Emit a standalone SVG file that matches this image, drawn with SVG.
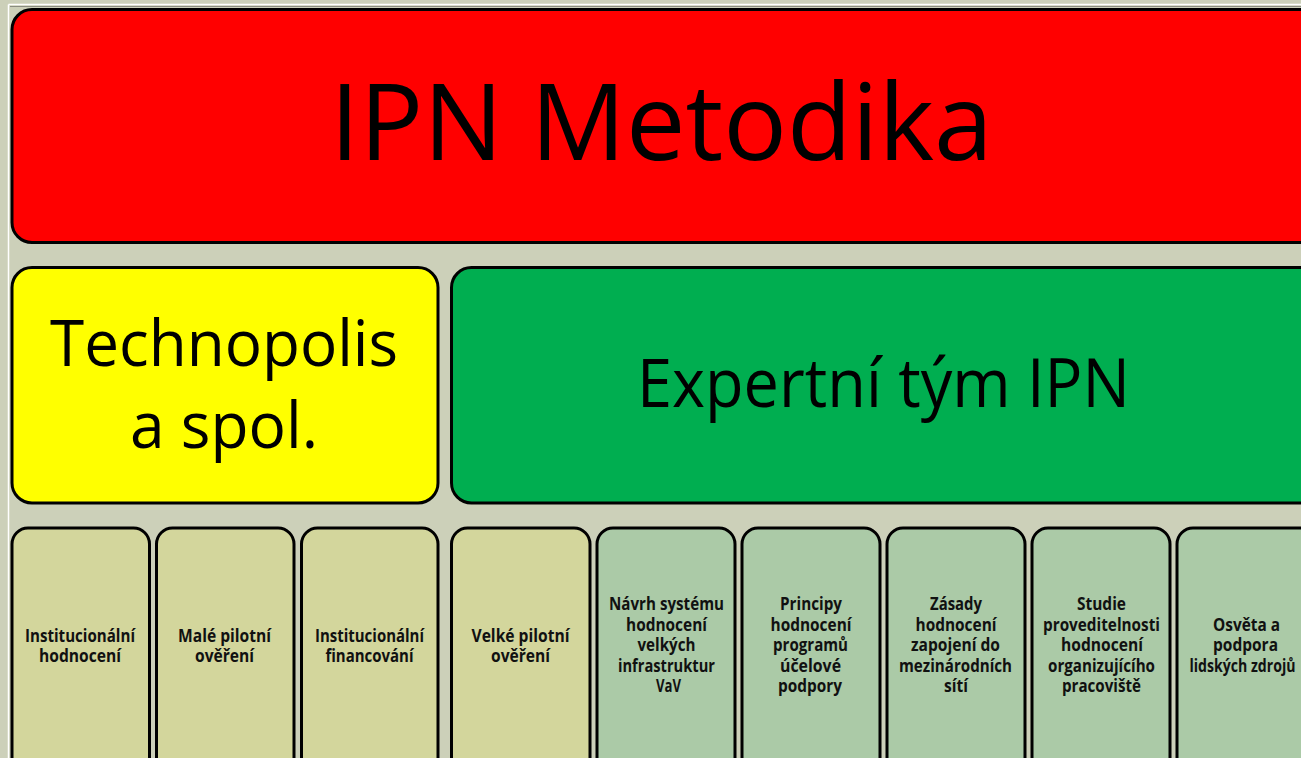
<svg xmlns="http://www.w3.org/2000/svg" width="1301" height="758" viewBox="0 0 1301 758">
<style>
.box{stroke:#000;stroke-width:3}
.big{font-family:"Open Sans","Noto Sans","Liberation Sans",sans-serif;fill:#000;text-anchor:middle}
.sm{font-family:"Open Sans","Noto Sans","Liberation Sans",sans-serif;font-weight:bold;font-size:17px;fill:#111;text-anchor:middle}
.olive{fill:#D3D69C}
.sage{fill:#ABCAA7}
</style>
<rect x="0" y="0" width="1301" height="758" fill="#CCD0B9"/>
<g id="frame">
<line x1="8.5" y1="4.5" x2="8.5" y2="758" stroke="#FFFFFF" stroke-width="1.5"/>
<line x1="8.5" y1="4.5" x2="1301" y2="4.5" stroke="#FFFFFF" stroke-width="1.5"/>
<line x1="10" y1="6.5" x2="1301" y2="6.5" stroke="#8A8C80" stroke-width="1"/>
</g>
<g id="connectors"></g>
<g id="ipn-metodika">
<rect class="box" x="12" y="9.5" width="1320" height="233" rx="20" fill="#FF0000"/>
<text class="big" x="661.5" y="160" font-size="107" textLength="663" lengthAdjust="spacingAndGlyphs">IPN Metodika</text>
</g>
<g id="technopolis">
<rect class="box" x="12" y="267.5" width="426" height="235.5" rx="20" fill="#FFFF00"/>
<text class="big" x="224" y="366" font-size="64" textLength="348" lengthAdjust="spacingAndGlyphs">Technopolis</text>
<text class="big" x="224" y="448" font-size="64" textLength="188" lengthAdjust="spacingAndGlyphs">a spol.</text>
</g>
<g id="expertni-tym">
<rect class="box" x="451.5" y="267.5" width="880" height="235.5" rx="20" fill="#00AE50"/>
<text class="big" x="883.5" y="407" font-size="68" textLength="493" lengthAdjust="spacingAndGlyphs">Expertní tým IPN</text>
</g>
<g id="b1">
<rect class="box olive" x="12" y="528" width="137.5" height="260" rx="16"/>
<text class="sm" x="80" y="641.5" textLength="110" lengthAdjust="spacingAndGlyphs">Institucionální</text>
<text class="sm" x="80" y="662" textLength="82" lengthAdjust="spacingAndGlyphs">hodnocení</text>
</g>
<g id="b2">
<rect class="box olive" x="156.5" y="528" width="137.5" height="260" rx="16"/>
<text class="sm" x="224.5" y="641.5" textLength="93" lengthAdjust="spacingAndGlyphs">Malé pilotní</text>
<text class="sm" x="224.5" y="662" textLength="59" lengthAdjust="spacingAndGlyphs">ověření</text>
</g>
<g id="b3">
<rect class="box olive" x="301.5" y="528" width="136.5" height="260" rx="16"/>
<text class="sm" x="369.5" y="641.5" textLength="109" lengthAdjust="spacingAndGlyphs">Institucionální</text>
<text class="sm" x="369.5" y="662" textLength="88" lengthAdjust="spacingAndGlyphs">financování</text>
</g>
<g id="b4">
<rect class="box olive" x="451.5" y="528" width="138.5" height="260" rx="16"/>
<text class="sm" x="520.5" y="641.5" textLength="98" lengthAdjust="spacingAndGlyphs">Velké pilotní</text>
<text class="sm" x="520.5" y="662" textLength="59" lengthAdjust="spacingAndGlyphs">ověření</text>
</g>
<g id="b5">
<rect class="box sage" x="597" y="528" width="138" height="260" rx="16"/>
<text class="sm" x="666.5" y="610" textLength="115" lengthAdjust="spacingAndGlyphs">Návrh systému</text>
<text class="sm" x="666.5" y="630.5" textLength="81" lengthAdjust="spacingAndGlyphs">hodnocení</text>
<text class="sm" x="666.5" y="651" textLength="58" lengthAdjust="spacingAndGlyphs">velkých</text>
<text class="sm" x="666.5" y="671.5" textLength="97" lengthAdjust="spacingAndGlyphs">infrastruktur</text>
<text class="sm" x="668.5" y="692" textLength="25" lengthAdjust="spacingAndGlyphs">VaV</text>
</g>
<g id="b6">
<rect class="box sage" x="742" y="528" width="138" height="260" rx="16"/>
<text class="sm" x="811" y="610" textLength="62" lengthAdjust="spacingAndGlyphs">Principy</text>
<text class="sm" x="811" y="630.5" textLength="81" lengthAdjust="spacingAndGlyphs">hodnocení</text>
<text class="sm" x="810.5" y="651" textLength="75" lengthAdjust="spacingAndGlyphs">programů</text>
<text class="sm" x="810.5" y="671.5" textLength="61" lengthAdjust="spacingAndGlyphs">účelové</text>
<text class="sm" x="810" y="692" textLength="64" lengthAdjust="spacingAndGlyphs">podpory</text>
</g>
<g id="b7">
<rect class="box sage" x="887" y="528" width="138" height="260" rx="16"/>
<text class="sm" x="956" y="610" textLength="52" lengthAdjust="spacingAndGlyphs">Zásady</text>
<text class="sm" x="956" y="630.5" textLength="81" lengthAdjust="spacingAndGlyphs">hodnocení</text>
<text class="sm" x="955.5" y="651" textLength="89" lengthAdjust="spacingAndGlyphs">zapojení do</text>
<text class="sm" x="955.5" y="671.5" textLength="113" lengthAdjust="spacingAndGlyphs">mezinárodních</text>
<text class="sm" x="956" y="692" textLength="24" lengthAdjust="spacingAndGlyphs">sítí</text>
</g>
<g id="b8">
<rect class="box sage" x="1032" y="528" width="138" height="260" rx="16"/>
<text class="sm" x="1101.5" y="610" textLength="49" lengthAdjust="spacingAndGlyphs">Studie</text>
<text class="sm" x="1101.5" y="630.5" textLength="117" lengthAdjust="spacingAndGlyphs">proveditelnosti</text>
<text class="sm" x="1102" y="651" textLength="82" lengthAdjust="spacingAndGlyphs">hodnocení</text>
<text class="sm" x="1101.5" y="671.5" textLength="107" lengthAdjust="spacingAndGlyphs">organizujícího</text>
<text class="sm" x="1101.5" y="692" textLength="79" lengthAdjust="spacingAndGlyphs">pracoviště</text>
</g>
<g id="b9">
<rect class="box sage" x="1177" y="528" width="138" height="260" rx="16"/>
<text class="sm" x="1246.5" y="630.5" textLength="67" lengthAdjust="spacingAndGlyphs">Osvěta a</text>
<text class="sm" x="1245.5" y="651" textLength="65" lengthAdjust="spacingAndGlyphs">podpora</text>
<text class="sm" x="1242.5" y="671.5" textLength="106" lengthAdjust="spacingAndGlyphs">lidských zdrojů</text>
</g>
</svg>
